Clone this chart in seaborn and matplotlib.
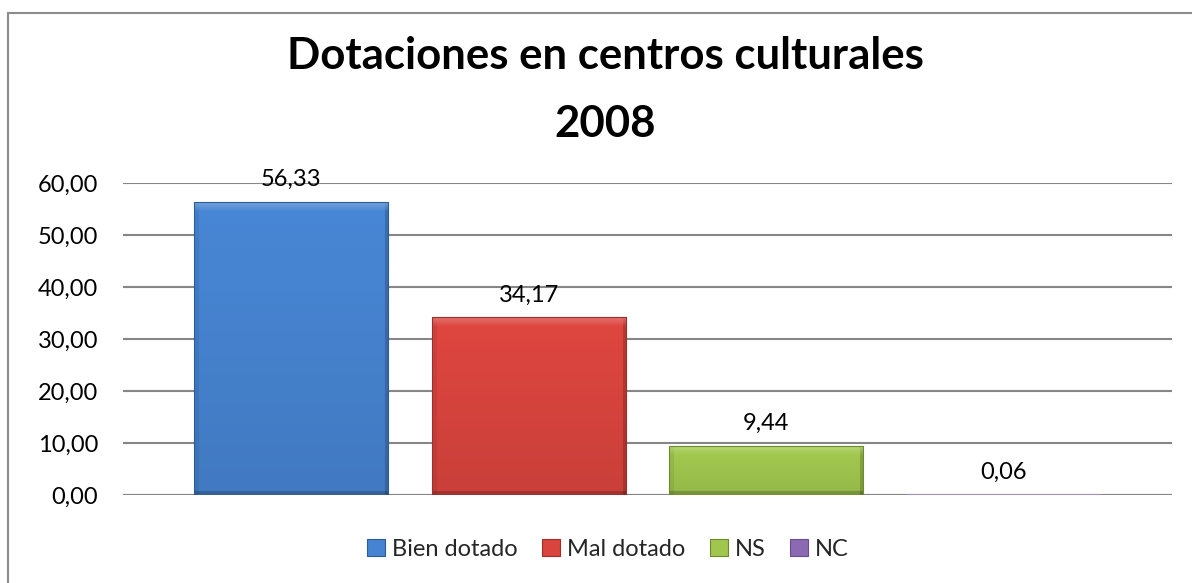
import matplotlib
matplotlib.use("Agg")
import matplotlib.pyplot as plt
import matplotlib.colors as mcolors
import seaborn as sns
import numpy as np
import pandas as pd
from matplotlib.patches import Rectangle

# Survey answers on equipment of cultural centres (percent)
categories = ["Bien dotado", "Mal dotado", "NS", "NC"]
values = [56.33, 34.17, 9.44, 0.06]
colors = ["#4683D0", "#D9443E", "#A0C64E", "#8B69B3"]
edge_colors = ["#2E5C96", "#9E2E2A", "#6E8A30", "#A48CC8"]
y_ticks = [0, 10, 20, 30, 40, 50, 60]
title_lines = ["Dotaciones en centros culturales", "2008"]


def fmt(v):
    return f"{v:.2f}".replace(".", ",")


def bevel_fill(ax, patch, color, px_per_x, px_per_y, bevel_px=9):
    """Paint a bar with a soft vertical gradient and a bevelled rim."""
    x0, y0 = patch.get_x(), patch.get_y()
    w, h = patch.get_width(), patch.get_height()
    wpx = max(int(round(w * px_per_x)), 2)
    hpx = max(int(round(h * px_per_y)), 2)
    base = np.array(mcolors.to_rgb(color))
    rows = np.linspace(0, 1, hpx)[:, None, None]          # 0 at top
    img = base * (1.03 - 0.10 * rows) * np.ones((1, wpx, 1))
    yy, xx = np.mgrid[0:hpx, 0:wpx]
    side = max(bevel_px * 0.5, 1)
    left = xx < side
    right = xx >= wpx - side
    bottom = yy >= hpx - side
    img[left] = img[left] * 0.93
    img[right] = img[right] * 0.82
    img[bottom] = img[bottom] * 0.80
    if hpx > 2 * bevel_px:
        band = yy < bevel_px
        t = (1 - yy / bevel_px)[..., None]                 # 1 at the very top
        light = base + (1 - base) * 0.30
        blend = light * t * 0.8 + img * (1 - t * 0.8)
        img = np.where(band[..., None], blend, img)
    img = np.clip(img, 0, 1)
    im = ax.imshow(img, extent=(x0, x0 + w, y0, y0 + h), origin="upper",
                   aspect="auto", interpolation="bilinear", zorder=patch.get_zorder())
    im.set_clip_path(patch)
    patch.set_facecolor("none")
    patch.set_zorder(patch.get_zorder() + 0.1)


sns.set_theme(style="white")
plt.rcParams["font.family"] = ["Lato", "DejaVu Sans"]

df = pd.DataFrame({"cat": categories, "val": values})

fig = plt.figure(figsize=(11.92, 5.83), dpi=100)
ax_left, ax_right, ax_top, ax_bottom = 123, 1172, 183, 495
ax = fig.add_axes([ax_left / 1192, 1 - ax_bottom / 583,
                   (ax_right - ax_left) / 1192, (ax_bottom - ax_top) / 583])

sns.barplot(data=df, x="cat", y="val", hue="cat", palette=colors,
            width=0.8175, legend=False, ax=ax, saturation=1)

xlim = (-0.708, 3.708)
ylim = (0, 60)
ax.set_xlim(*xlim)
ax.set_ylim(*ylim)
px_x = (ax_right - ax_left) / (xlim[1] - xlim[0])
px_y = (ax_bottom - ax_top) / (ylim[1] - ylim[0])

for patch, c, ec in zip(list(ax.patches), colors, edge_colors):
    patch.set_edgecolor(ec)
    patch.set_linewidth(0.8)
    bevel_fill(ax, patch, c, px_x, px_y)
# the nearly empty NC bar shows as a thin coloured line on the baseline
ax.patches[3].set_linewidth(1.4)

ax.set_yticks(y_ticks)
ax.set_yticklabels([fmt(t) for t in y_ticks], fontsize=17, color="#000000")
ax.tick_params(axis="y", length=0, pad=18)
ax.set_xticks([])
ax.set_xlabel("")
ax.set_ylabel("")
ax.yaxis.grid(True, color="#868686", linewidth=1.5)
ax.set_axisbelow(True)
for s in ax.spines.values():
    s.set_visible(False)
ax.axhline(0, color="#868686", linewidth=1.5, zorder=0.5)

# value labels above each bar
for i, v in enumerate(values):
    ax.annotate(fmt(v), xy=(i, v), xytext=(0, 11.5), textcoords="offset points",
                ha="center", va="baseline", fontsize=17, color="#000000")

# title
fig.text(605 / 1192, 1 - 69 / 583, title_lines[0], ha="center", va="baseline",
         fontsize=31.5, fontweight="bold", color="#000000")
fig.text(605 / 1192, 1 - 137 / 583, title_lines[1], ha="center", va="baseline",
         fontsize=31.5, fontweight="bold", color="#000000")

# legend
handles = [Rectangle((0, 0), 1, 1, facecolor=c, edgecolor=e, linewidth=0.8)
           for c, e in zip(colors, ["#2E5C96", "#9E2E2A", "#6E8A30", "#6A4E8C"])]
fig.legend(handles, categories, loc="center", bbox_to_anchor=(608 / 1192, 1 - 549 / 583),
           ncol=4, frameon=False, fontsize=17, handlelength=0.75, handleheight=0.75,
           handletextpad=0.3, columnspacing=1.05)

# outer chart frame
fig.patches.append(Rectangle((8 / 1192, -0.05), 1.1, 1 - 13 / 583 + 0.05,
                             transform=fig.transFigure, fill=False,
                             edgecolor="#8C8C8C", linewidth=1.5))

fig.savefig("out.png", dpi=100)
